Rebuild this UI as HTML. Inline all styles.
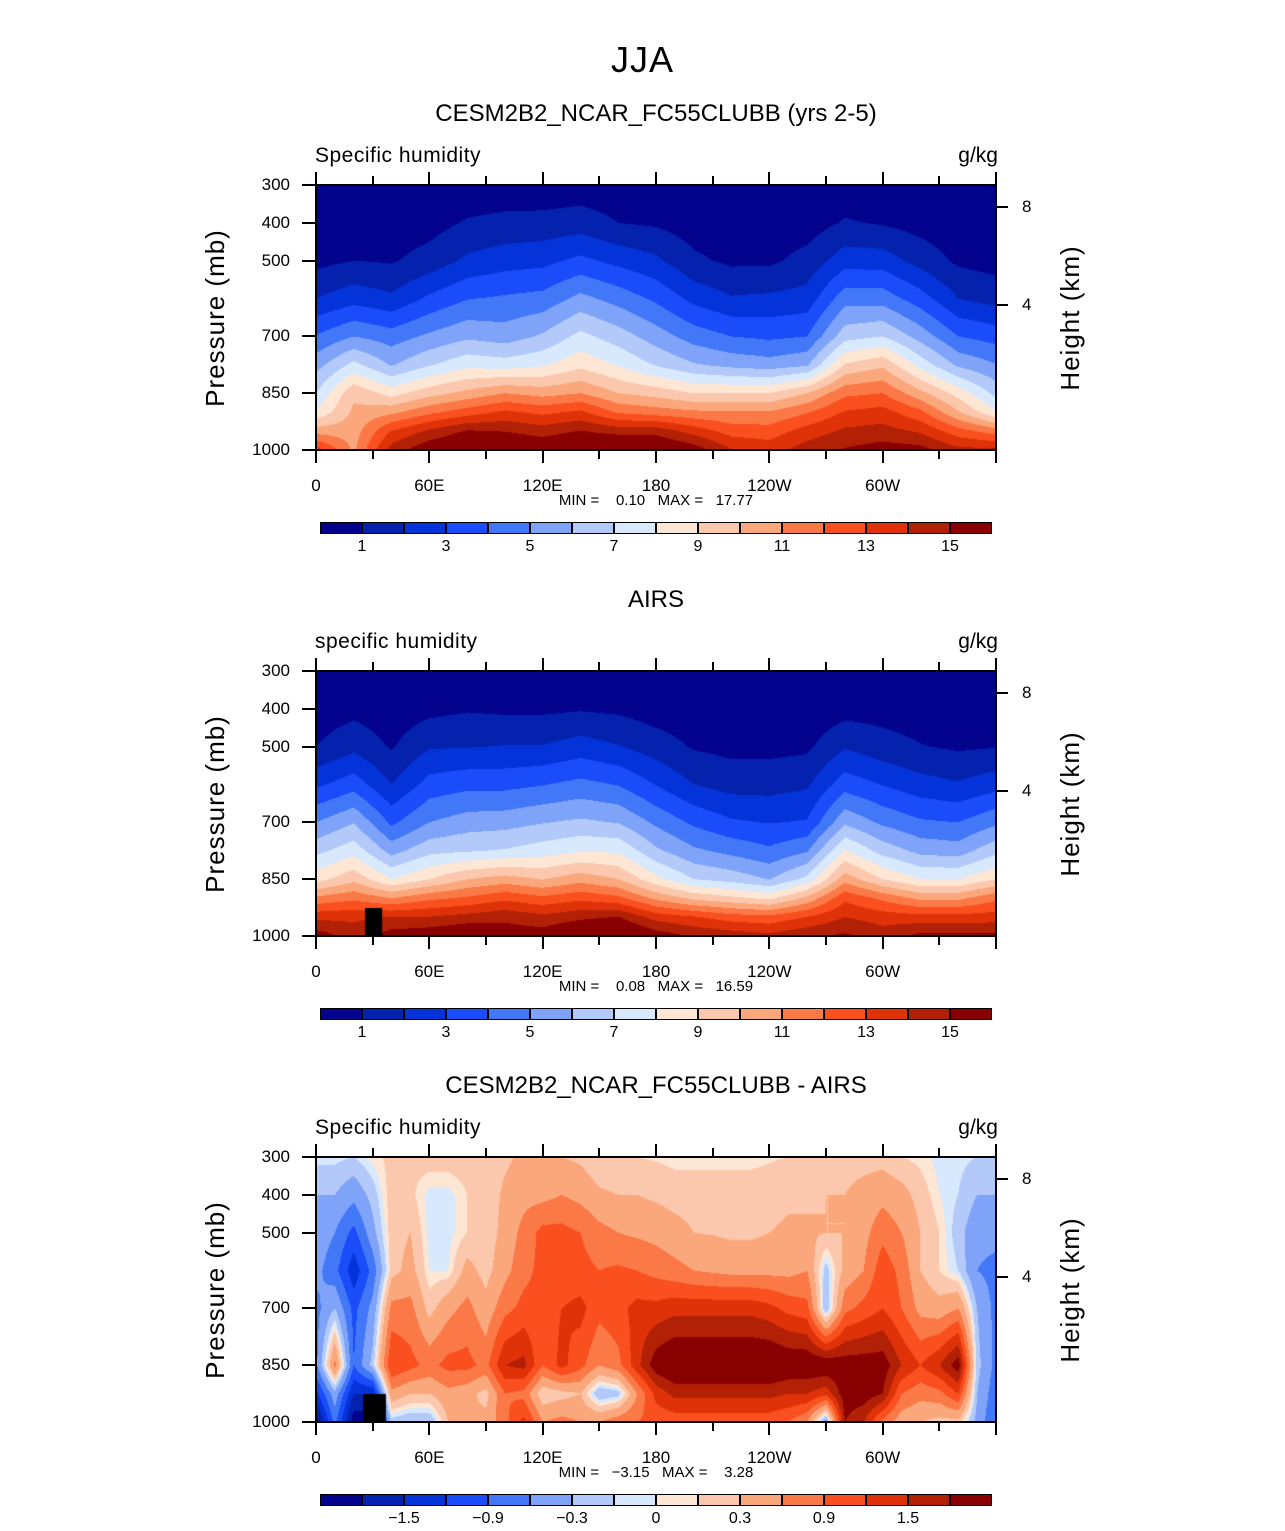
<!DOCTYPE html>
<html><head><meta charset="utf-8">
<style>
body{margin:0;background:#fff;}
#root{position:relative;width:1285px;height:1531px;overflow:hidden;background:#fff;font-family:"Liberation Sans",sans-serif;color:#000;}
.t{position:absolute;white-space:nowrap;line-height:1;}
canvas{position:absolute;}
.ax{position:absolute;background:#000;}
</style></head>
<body>
<div id="root">
<div class="t" style="left:0;width:1285px;text-align:center;top:42px;font-size:36px;font-weight:300;letter-spacing:1px;">JJA</div>
</div>
<script>
// ---------- data ----------
const contourLevelsQ = [1,2,3,4,5,6,7,8,9,10,11,12,13,14,15];
const contourLevelsDiff = [-1.8,-1.5,-1.2,-0.9,-0.6,-0.3,-0.1,0,0.1,0.3,0.6,0.9,1.2,1.5,1.8];
const colorbarLabelsQ = ["1","3","5","7","9","11","13","15"];
const colorbarLabelsDiff = ["\u22121.5","\u22120.9","\u22120.3","0","0.3","0.9","1.5"];
const pressureTicks = [300,400,500,700,850,1000];
const lonTickLabels = ["0","60E","120E","180","120W","60W"];
const heightTicks = ["8","4"];
const palette = ['#03038e','#0422ad','#0533da','#1a4cfa','#4277f7','#7ea3f8','#b2c9f9','#d8e9fd','#fee6d4','#fcc8ad','#fba77c','#fb7947','#fa4f1e','#e03208','#b22106','#880000'];

const modelLevels = [1000,950,900,850,775,700,600,500,400,300];
const modelLons = [0,20,40,60,80,100,120,140,160,180,200,220,240,260,280,300,320,340,360];
const modelQ = [
[13.6,10.5,8.2,7.0,5.6,4.1,2.0,0.7,0.3,0.1],
[10.8,10.5,10.2,9.8,7.3,5.0,2.6,1.0,0.4,0.1],
[14.5,13.05,10.75,8.6,5.9,4.5,2.2,0.9,0.4,0.1],
[15.8,14.2,11.75,9.6,6.9,5.2,3.2,1.4,0.6,0.2],
[16.5,15.1,12.5,10.3,7.7,5.8,3.95,2.2,1.1,0.3],
[16.4,14.95,13.2,11.0,7.5,5.5,4.15,2.55,1.3,0.3],
[16.0,14.55,12.75,10.6,7.85,6.15,4.35,2.7,1.35,0.3],
[16.5,15.05,13.2,11.0,8.7,7.3,5.3,3.25,1.5,0.4],
[16.7,14.6,11.85,10.0,7.9,6.5,4.6,2.7,1.0,0.35],
[16.4,14.6,11.5,9.6,6.9,5.5,3.8,2.2,0.85,0.3],
[15.6,13.6,11.2,9.0,6.1,4.55,2.7,1.2,0.5,0.15],
[14.1,12.55,11.1,9.0,5.7,4.0,2.1,0.8,0.4,0.1],
[13.6,12.45,11.1,9.0,5.45,3.8,2.2,0.8,0.4,0.1],
[14.5,13.45,11.9,10.0,5.85,4.0,2.4,1.35,0.5,0.15],
[15.1,14.2,13.1,11.75,9.1,6.6,4.6,2.55,1.1,0.4],
[15.5,14.4,13.4,12.0,9.8,7.0,4.55,2.5,0.9,0.3],
[15.4,13.85,12.25,10.3,7.6,5.6,3.45,1.6,0.6,0.2],
[14.3,12.4,10.1,8.6,5.8,4.0,2.0,0.8,0.4,0.1],
[14.3,11.5,8.1,6.7,5.05,3.6,1.6,0.6,0.3,0.1]
];
const airsLevels = [1000,950,900,850,775,700,600,500,400,300];
const airsLons = [0,20,40,60,80,100,120,140,160,180,200,220,240,260,280,300,320,340,360];
const airsQ = [
[15.6,13.7,11.25,8.6,6.7,5.0,2.8,1.0,0.4,0.1],
[14.5,13.8,11.75,9.7,7.6,5.95,3.55,1.7,0.7,0.2],
[15.5,14.05,11.0,8.0,5.6,3.8,2.0,0.9,0.4,0.1],
[15.8,14.05,11.75,9.0,6.7,5.0,3.4,1.9,0.7,0.2],
[16.2,14.4,12.15,10.0,6.9,5.5,3.7,1.95,0.9,0.2],
[15.6,14.75,12.75,10.45,7.1,5.6,3.7,2.05,0.8,0.2],
[15.6,14.3,12.25,9.95,7.5,5.95,3.95,2.05,0.8,0.2],
[16.5,14.75,12.75,10.6,7.9,6.2,4.3,2.45,0.9,0.2],
[16.7,15.05,12.25,10.0,7.85,5.95,3.95,2.05,0.8,0.2],
[15.6,13.6,10.75,8.3,6.2,4.8,2.95,1.5,0.5,0.1],
[14.9,13.1,9.75,7.0,5.2,3.8,2.0,0.9,0.4,0.1],
[14.6,12.5,9.25,6.6,4.7,3.15,1.6,0.7,0.3,0.1],
[14.3,12.3,8.75,5.95,4.2,2.95,1.6,0.7,0.3,0.1],
[14.8,13.05,10.25,7.3,4.9,3.1,1.85,0.8,0.3,0.1],
[15.2,14.0,12.75,10.6,8.1,5.8,3.55,1.9,0.6,0.2],
[14.5,13.55,11.75,9.0,6.6,4.8,2.95,1.4,0.6,0.1],
[15.3,13.4,10.75,8.0,5.7,4.15,2.4,1.05,0.5,0.1],
[15.3,13.4,10.75,8.0,5.5,4.0,2.1,0.85,0.4,0.1],
[15.3,13.5,11.75,9.0,6.7,4.8,2.6,0.95,0.4,0.1]
];
const diffLevels = [1000,925,850,700,600,500,400,300];
const diffLons = [0,10,20,30,40,50,60,70,80,90,100,110,120,130,140,150,160,170,180,190,200,210,220,230,240,250,260,270,280,290,300,310,320,330,340,350,360];
const diffQ = [
[-2.0,-1.3,-0.7,-0.7,-0.5,-0.4,-0.3,-0.05],
[-0.8,-0.4,0.7,-0.3,-0.8,-0.6,-0.3,-0.05],
[-2.0,-1.5,-0.9,-1.0,-1.4,-1.0,-0.5,-0.1],
[-2.0,-1.5,-0.2,-0.5,-0.8,-0.4,-0.2,0.05],
[-0.2,0.5,1.2,0.7,0.2,0.2,0.2,0.15],
[-0.3,0.3,1.0,0.7,0.4,0.3,0.15,0.15],
[-0.3,0.3,0.8,0.2,0.0,-0.05,-0.05,0.2],
[0.3,0.5,1.0,0.5,0.0,-0.05,-0.05,0.2],
[0.3,0.4,1.0,0.7,0.4,0.1,0.1,0.2],
[0.4,0.2,0.8,0.4,0.2,0.15,0.15,0.2],
[0.8,0.9,1.5,0.8,0.5,0.4,0.35,0.25],
[1.3,0.8,1.6,1.0,0.8,0.7,0.5,0.35],
[0.6,0.1,0.9,1.0,1.0,1.0,0.5,0.35],
[0.7,0.2,1.3,1.2,1.0,1.0,0.6,0.3],
[0.6,0.3,1.0,1.3,1.0,0.9,0.5,0.25],
[0.6,-0.3,0.6,1.0,0.9,0.7,0.35,0.1],
[0.8,-0.2,0.8,1.1,0.95,0.6,0.3,0.1],
[0.9,0.6,1.4,1.3,0.9,0.55,0.3,0.1],
[1.0,1.3,2.0,1.3,0.8,0.5,0.25,0.08],
[1.0,1.6,2.2,1.4,0.7,0.4,0.2,0.05],
[1.0,1.6,2.2,1.4,0.6,0.3,0.2,0.05],
[1.0,1.6,2.2,1.4,0.55,0.28,0.2,0.05],
[1.0,1.6,2.2,1.4,0.5,0.25,0.2,0.05],
[1.0,1.6,2.2,1.4,0.5,0.25,0.2,0.05],
[1.0,1.6,2.2,1.3,0.5,0.3,0.2,0.08],
[0.9,1.5,2.1,1.1,0.5,0.35,0.25,0.1],
[0.6,1.5,2.1,1.0,0.6,0.35,0.25,0.15],
[-0.5,1.3,2.1,-0.3,-0.2,0.3,0.3,0.2],
[1.8,2.0,2.0,0.8,0.4,0.3,0.3,0.2],
[1.5,2.0,2.0,1.0,0.6,0.5,0.4,0.2],
[0.8,1.8,2.0,1.2,1.1,0.8,0.5,0.2],
[0.4,0.9,1.5,0.9,0.8,0.6,0.4,0.1],
[0.3,0.7,1.2,0.5,0.3,0.3,0.2,0.05],
[0.2,0.8,1.5,0.4,0.1,0.1,0.0,-0.05],
[0.2,1.2,2.0,0.6,-0.1,-0.2,-0.1,-0.05],
[-0.4,-0.3,-0.2,-0.3,-0.6,-0.5,-0.3,-0.1],
[-0.9,-0.8,-0.7,-0.7,-0.7,-0.5,-0.3,-0.1]
];

// ---------- drawing ----------
const root = document.getElementById('root');
const PX = 316, PW = 680, PH = 265;
function xOfLon(lon){ return PX + lon/360*PW; }
function yOfP(top,p){ return top + (p-300)/700*PH; }
function hexRgb(h){ return [parseInt(h.substr(1,2),16),parseInt(h.substr(3,2),16),parseInt(h.substr(5,2),16)]; }
const palRgb = palette.map(hexRgb);
function bandOf(v, lev){ let k=0; while(k<lev.length && v>=lev[k]) k++; return k; }
function sample(lons, levs, grid, lon, p){
  let i=0; while(i<lons.length-2 && lon>lons[i+1]) i++;
  const tx=(lon-lons[i])/(lons[i+1]-lons[i]);
  let j=0; while(j<levs.length-2 && p<levs[j+1]) j++;
  const ty=(levs[j]-p)/(levs[j]-levs[j+1]);
  const a=grid[i][j]*(1-ty)+grid[i][j+1]*ty;
  const b=grid[i+1][j]*(1-ty)+grid[i+1][j+1]*ty;
  return a*(1-tx)+b*tx;
}
function addText(name, txt, css){
  const d=document.createElement('div');
  d.className='t';
  
  
  d.textContent=txt; d.style.cssText=css; root.appendChild(d); return d;
}
function addBar(name,l,t,w,h,color){
  const d=document.createElement('div');
  d.className='ax';
  
  
  d.style.left=l+'px'; d.style.top=t+'px'; d.style.width=w+'px'; d.style.height=h+'px';
  if(color) d.style.background=color;
  root.appendChild(d); return d;
}
function panel(top, title, subtitle, lons, levs, grid, lev, cbLabels, cbStart, minmax, missing){
  addText('panel-title', title, 'left:0;width:1312px;text-align:center;top:'+(top-83)+'px;font-size:24px;');
  addText('field-label', subtitle, 'left:315px;top:'+(top-40)+'px;font-size:21px;letter-spacing:0.5px;');
  addText('units-label', 'g/kg', 'left:898px;width:100px;text-align:right;top:'+(top-40)+'px;font-size:21px;');
  const c=document.createElement('canvas');
  
  
  c.width=PW; c.height=PH; c.style.left=PX+'px'; c.style.top=top+'px';
  root.appendChild(c);
  const ctx=c.getContext('2d'); const img=ctx.createImageData(PW,PH);
  for(let y=0;y<PH;y++){
    const p=300+(y+0.5)/PH*700;
    for(let x=0;x<PW;x++){
      const lon=(x+0.5)/PW*360;
      const v=sample(lons,levs,grid,lon,p);
      const col=palRgb[bandOf(v,lev)];
      const o=(y*PW+x)*4; img.data[o]=col[0]; img.data[o+1]=col[1]; img.data[o+2]=col[2]; img.data[o+3]=255;
    }
  }
  ctx.putImageData(img,0,0);
  if(missing){
    ctx.fillStyle='#000';
    const x0=xOfLon(missing[0])-PX, x1=xOfLon(missing[1])-PX, y0=yOfP(top,missing[2])-top;
    ctx.fillRect(x0,y0,x1-x0,PH-y0);
  }
  addBar('plot-frame-top',PX-1,top-1,PW+2,2);
  addBar('plot-frame-bottom',PX-1,top+PH-1,PW+2,2);
  addBar('plot-frame-left',PX-1,top-1,2,PH+2);
  addBar('plot-frame-right',PX+PW-1,top-1,2,PH+2);
  for(let k=0;k<=12;k++){
    const x=xOfLon(k*30); const len = (k%2===0)?13:9;
    addBar('lon-tick-top',x-1,top-len,2,len);
    addBar('lon-tick-bottom',x-1,top+PH,2,len);
  }
  lonTickLabels.forEach((s,k)=>{
    addText('lon-tick-label', s, 'left:'+(xOfLon(k*60)-40)+'px;width:80px;text-align:center;top:'+(top+PH+27)+'px;font-size:17px;');
  });
  pressureTicks.forEach(p=>{
    const y=yOfP(top,p);
    addBar('pressure-tick',PX-14,y-1,14,2);
    addText('pressure-tick-label', String(p), 'left:220px;width:70px;text-align:right;top:'+(y-9)+'px;font-size:17px;');
  });
  const hY=[22,120];
  heightTicks.forEach((s,k)=>{
    addBar('height-tick',PX+PW,top+hY[k]-1,12,2);
    addText('height-tick-label', s, 'left:1022px;top:'+(top+hY[k]-9)+'px;font-size:17px;');
  });
  addText('y-axis-title', 'Pressure (mb)', 'left:215px;top:'+(top+133)+'px;font-size:26px;letter-spacing:1px;transform:translate(-50%,-50%) rotate(-90deg);');
  addText('right-axis-title', 'Height (km)', 'left:1070px;top:'+(top+133)+'px;font-size:26px;letter-spacing:1px;transform:translate(-50%,-50%) rotate(-90deg);');
  addText('min-max-label', minmax, 'left:0;width:1312px;text-align:center;top:'+(top+PH+43)+'px;font-size:15px;white-space:pre;');
  const cy=top+337;
  for(let k=0;k<16;k++){
    const d=addBar('colorbar-box',320+42*k,cy,42,12,palette[k]);
    d.style.boxSizing='border-box'; d.style.border='1px solid #000';
  }
  cbLabels.forEach((s,k)=>{
    const x=362+42*(cbStart+2*k);
    addText('colorbar-label', s, 'left:'+(x-30)+'px;width:60px;text-align:center;top:'+(cy+17)+'px;font-size:16px;');
  });
}
panel(185,'CESM2B2_NCAR_FC55CLUBB (yrs 2-5)','Specific humidity',modelLons,modelLevels,modelQ,contourLevelsQ,colorbarLabelsQ,0,'MIN =    0.10   MAX =   17.77',null);
panel(671,'AIRS','specific humidity',airsLons,airsLevels,airsQ,contourLevelsQ,colorbarLabelsQ,0,'MIN =    0.08   MAX =   16.59',[26,35,926]);
panel(1157,'CESM2B2_NCAR_FC55CLUBB - AIRS','Specific humidity',diffLons,diffLevels,diffQ,contourLevelsDiff,colorbarLabelsDiff,1,'MIN =   \u22123.15   MAX =    3.28',[25,37,926]);
</script>
</body></html>
